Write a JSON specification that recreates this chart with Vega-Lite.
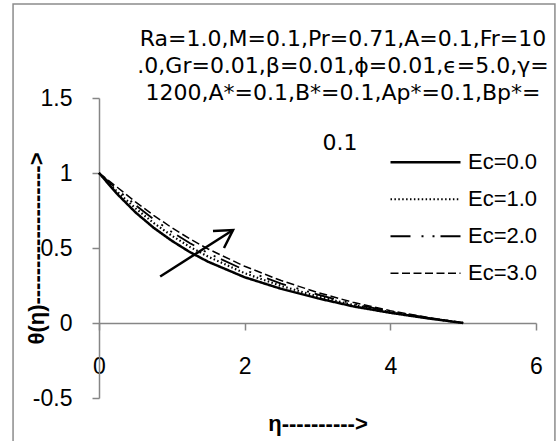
{
  "$schema": "https://vega.github.io/schema/vega-lite/v6.json",
  "width": 437,
  "height": 300,
  "autosize": {"type": "none"},
  "padding": {"left": 99, "top": 98, "right": 22, "bottom": 43},
  "background": "white",
  "config": {
    "view": {"stroke": null},
    "font": "Liberation Sans",
    "axis": {"labelFont": "Liberation Sans", "titleFont": "Liberation Sans", "domainColor": "#868686", "tickColor": "#868686", "labelColor": "#000000", "titleColor": "#000000", "grid": false, "domainWidth": 1.5, "tickWidth": 1.5}
  },
  "datasets": {
    "curves": [
      {"eta": 0, "theta": 1, "series": "Ec=0.0"},
      {"eta": 0.25, "theta": 0.86, "series": "Ec=0.0"},
      {"eta": 0.5, "theta": 0.738, "series": "Ec=0.0"},
      {"eta": 0.75, "theta": 0.635, "series": "Ec=0.0"},
      {"eta": 1, "theta": 0.548, "series": "Ec=0.0"},
      {"eta": 1.25, "theta": 0.472, "series": "Ec=0.0"},
      {"eta": 1.5, "theta": 0.408, "series": "Ec=0.0"},
      {"eta": 2, "theta": 0.305, "series": "Ec=0.0"},
      {"eta": 2.5, "theta": 0.228, "series": "Ec=0.0"},
      {"eta": 3, "theta": 0.165, "series": "Ec=0.0"},
      {"eta": 3.5, "theta": 0.11, "series": "Ec=0.0"},
      {"eta": 4, "theta": 0.068, "series": "Ec=0.0"},
      {"eta": 4.5, "theta": 0.032, "series": "Ec=0.0"},
      {"eta": 5, "theta": 0, "series": "Ec=0.0"},
      {"eta": 0, "theta": 1, "series": "Ec=1.0"},
      {"eta": 0.25, "theta": 0.875, "series": "Ec=1.0"},
      {"eta": 0.5, "theta": 0.765, "series": "Ec=1.0"},
      {"eta": 0.75, "theta": 0.667, "series": "Ec=1.0"},
      {"eta": 1, "theta": 0.582, "series": "Ec=1.0"},
      {"eta": 1.25, "theta": 0.507, "series": "Ec=1.0"},
      {"eta": 1.5, "theta": 0.442, "series": "Ec=1.0"},
      {"eta": 2, "theta": 0.332, "series": "Ec=1.0"},
      {"eta": 2.5, "theta": 0.247, "series": "Ec=1.0"},
      {"eta": 3, "theta": 0.178, "series": "Ec=1.0"},
      {"eta": 3.5, "theta": 0.119, "series": "Ec=1.0"},
      {"eta": 4, "theta": 0.073, "series": "Ec=1.0"},
      {"eta": 4.5, "theta": 0.034, "series": "Ec=1.0"},
      {"eta": 5, "theta": 0, "series": "Ec=1.0"},
      {"eta": 0, "theta": 1, "series": "Ec=2.0"},
      {"eta": 0.25, "theta": 0.89, "series": "Ec=2.0"},
      {"eta": 0.5, "theta": 0.787, "series": "Ec=2.0"},
      {"eta": 0.75, "theta": 0.692, "series": "Ec=2.0"},
      {"eta": 1, "theta": 0.607, "series": "Ec=2.0"},
      {"eta": 1.25, "theta": 0.532, "series": "Ec=2.0"},
      {"eta": 1.5, "theta": 0.465, "series": "Ec=2.0"},
      {"eta": 2, "theta": 0.353, "series": "Ec=2.0"},
      {"eta": 2.5, "theta": 0.263, "series": "Ec=2.0"},
      {"eta": 3, "theta": 0.19, "series": "Ec=2.0"},
      {"eta": 3.5, "theta": 0.127, "series": "Ec=2.0"},
      {"eta": 4, "theta": 0.077, "series": "Ec=2.0"},
      {"eta": 4.5, "theta": 0.036, "series": "Ec=2.0"},
      {"eta": 5, "theta": 0, "series": "Ec=2.0"},
      {"eta": 0, "theta": 1, "series": "Ec=3.0"},
      {"eta": 0.25, "theta": 0.905, "series": "Ec=3.0"},
      {"eta": 0.5, "theta": 0.808, "series": "Ec=3.0"},
      {"eta": 0.75, "theta": 0.718, "series": "Ec=3.0"},
      {"eta": 1, "theta": 0.635, "series": "Ec=3.0"},
      {"eta": 1.25, "theta": 0.56, "series": "Ec=3.0"},
      {"eta": 1.5, "theta": 0.493, "series": "Ec=3.0"},
      {"eta": 2, "theta": 0.378, "series": "Ec=3.0"},
      {"eta": 2.5, "theta": 0.283, "series": "Ec=3.0"},
      {"eta": 3, "theta": 0.204, "series": "Ec=3.0"},
      {"eta": 3.5, "theta": 0.136, "series": "Ec=3.0"},
      {"eta": 4, "theta": 0.082, "series": "Ec=3.0"},
      {"eta": 4.5, "theta": 0.038, "series": "Ec=3.0"},
      {"eta": 5, "theta": 0, "series": "Ec=3.0"}
    ],
    "arrow": [
      {"eta": 0.84, "theta": 0.31, "part": "shaft", "ord": 1},
      {"eta": 1.84, "theta": 0.62, "part": "shaft", "ord": 2},
      {"eta": 1.565, "theta": 0.613, "part": "head", "ord": 1},
      {"eta": 1.84, "theta": 0.62, "part": "head", "ord": 2},
      {"eta": 1.716, "theta": 0.5, "part": "head", "ord": 3}
    ],
    "note": [
      {"label": "Ra=1.0,M=0.1,Pr=0.71,A=0.1,Fr=10\n.0,Gr=0.01,β=0.01,ϕ=0.01,ϵ=5.0,γ=\n1200,A*=0.1,B*=0.1,Ap*=0.1,Bp*="}
    ],
    "note2": [
      {"label": "0.1"}
    ],
    "frame": [
      {"x1": -1.18, "x2": 6.26, "y1": 2.127, "y2": -0.85}
    ]
  },
  "layer": [
    {
      "data": {"name": "frame"},
      "mark": {"type": "rect", "fill": null, "stroke": "#8c8c8c", "strokeWidth": 1.5, "clip": false},
      "encoding": {
        "x": {"field": "x1", "type": "quantitative"},
        "x2": {"field": "x2"},
        "y": {"field": "y1", "type": "quantitative"},
        "y2": {"field": "y2"}
      }
    },
    {
      "data": {"name": "curves"},
      "mark": {"type": "line", "color": "black", "clip": false},
      "encoding": {
        "x": {
          "field": "eta", "type": "quantitative",
          "scale": {"domain": [0, 6], "nice": false, "zero": false},
          "axis": {
            "values": [0, 2, 4, 6], "labelExpr": "'' + datum.value", "labelFlush": false,
            "title": "η---------->", "offset": -75,
            "labelFontSize": 23, "labelPadding": 25, "tickSize": 7,
            "titleFontSize": 22, "titleFontWeight": "bold", "titleY": 90, "titleBaseline": "top"
          }
        },
        "y": {
          "field": "theta", "type": "quantitative",
          "scale": {"domain": [-0.5, 1.5], "nice": false, "zero": false},
          "axis": {
            "values": [-0.5, 0, 0.5, 1, 1.5], "labelExpr": "'' + datum.value", "labelFlush": false,
            "title": "θ(η)------------------->", "labelFontSize": 23, "labelPadding": 20, "tickSize": 7,
            "titleFontSize": 22, "titleFontWeight": "bold", "titleX": -51
          }
        },
        "strokeDash": {
          "field": "series", "type": "nominal",
          "scale": {"domain": ["Ec=0.0", "Ec=1.0", "Ec=2.0", "Ec=3.0"], "range": [[1, 0], [1.5, 2.4], [20, 11, 2, 9, 2, 6], [8, 3.5]]},
          "legend": {
            "title": null, "orient": "none", "legendX": 290, "legendY": 46,
            "symbolType": "stroke", "symbolSize": 4900, "symbolStrokeColor": "black",
            "labelFontSize": 22, "labelColor": "black", "labelOffset": 6, "rowPadding": 0, "padding": 0, "clipHeight": 36.5
          }
        },
        "strokeWidth": {
          "field": "series", "type": "nominal",
          "scale": {"domain": ["Ec=0.0", "Ec=1.0", "Ec=2.0", "Ec=3.0"], "range": [2.5, 1.5, 2, 2]}
        }
      }
    },
    {
      "data": {"name": "arrow"},
      "mark": {"type": "line", "color": "black", "strokeWidth": 2.5},
      "encoding": {
        "x": {"field": "eta", "type": "quantitative"},
        "y": {"field": "theta", "type": "quantitative"},
        "detail": {"field": "part"},
        "order": {"field": "ord"}
      }
    },
    {
      "data": {"name": "note"},
      "mark": {"type": "text", "font": "DejaVu Sans", "fontSize": 22, "lineBreak": "\n", "lineHeight": 27, "align": "center", "baseline": "alphabetic", "color": "black"},
      "encoding": {
        "text": {"field": "label"},
        "x": {"datum": 3.35},
        "y": {"datum": 1.849}
      }
    },
    {
      "data": {"name": "note2"},
      "mark": {"type": "text", "font": "DejaVu Sans", "fontSize": 22, "align": "center", "baseline": "alphabetic", "color": "black"},
      "encoding": {
        "text": {"field": "label"},
        "x": {"datum": 3.31},
        "y": {"datum": 1.155}
      }
    }
  ]
}
